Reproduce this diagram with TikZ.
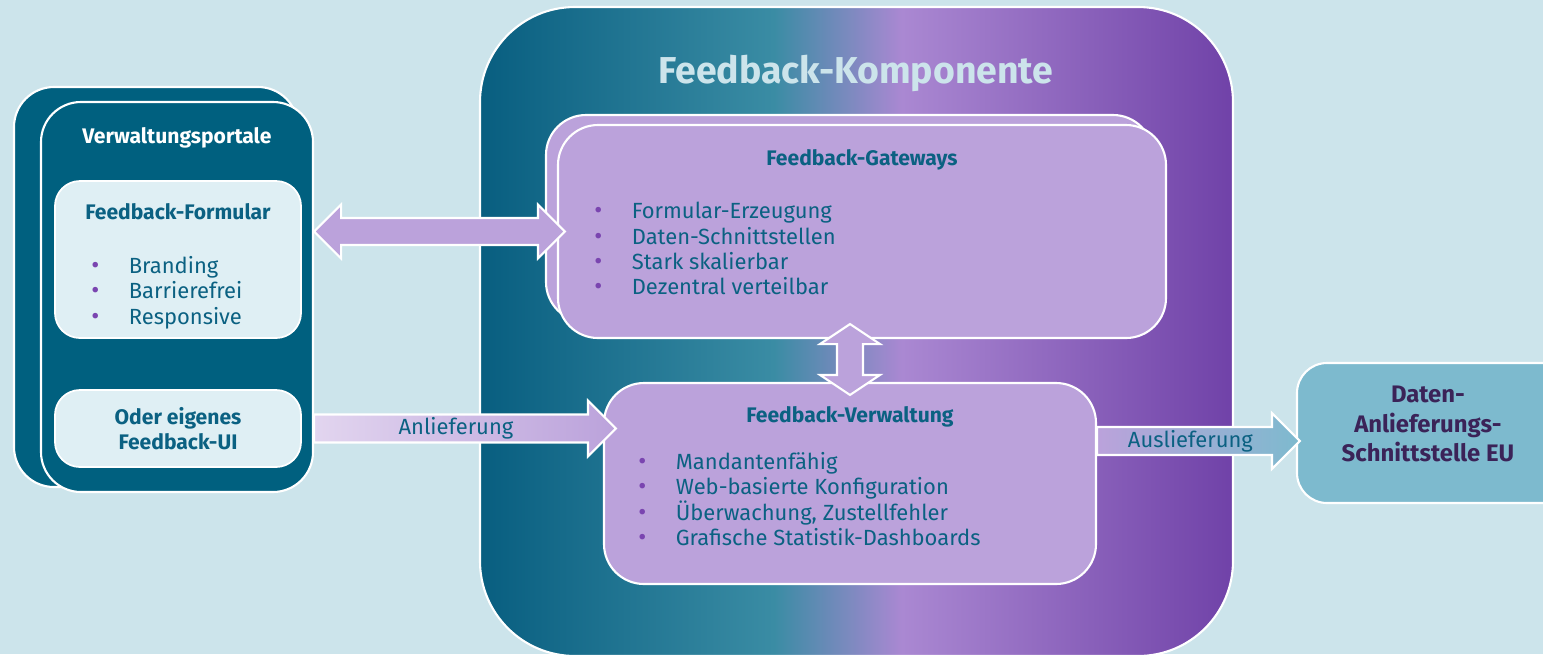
\documentclass[tikz,border=0pt]{standalone}
\usepackage{fontspec}
\setmainfont{Fira Sans}
\usetikzlibrary{calc,fit,positioning}

\definecolor{bgblue}{HTML}{CCE4EB}
\definecolor{portalteal}{HTML}{00607F}
\definecolor{formfill}{HTML}{DFEFF4}
\definecolor{headteal}{HTML}{0B6182}
\definecolor{boxpurple}{HTML}{BBA2DB}
\definecolor{dotpurple}{HTML}{7A45B0}
\definecolor{eublue}{HTML}{7DBACE}
\definecolor{eutext}{HTML}{3B2358}
\definecolor{palepurple}{HTML}{E2D5EF}
\definecolor{gradA}{RGB}{8,94,128}
\definecolor{gradB}{RGB}{58,140,164}
\definecolor{gradC}{RGB}{170,136,210}
\definecolor{gradD}{RGB}{112,66,168}

\pgfdeclarehorizontalshading{compgrad}{100bp}{color(0bp)=(gradA); color(25bp)=(gradA); color(44.5bp)=(gradB); color(53bp)=(gradC); color(75bp)=(gradD); color(100bp)=(gradD)}

\newcommand{\bul}{\makebox[0.75cm][l]{\textcolor{dotpurple}{\fontsize{14}{14}\selectfont\textbullet}}}
\def\dblharrow[#1](#2)(#3){\draw[#1] (#2) -- ++(27,-27) -- ++(0,13.5) -- ($(#3)+(-27,-13.5)$) -- ++(0,-13.5) -- (#3) -- ++(-27,27) -- ++(0,-13.5) -- ($(#2)+(27,13.5)$) -- ++(0,13.5) -- cycle;}
\def\dblvarrow[#1](#2)(#3){\draw[#1] (#2) -- ++(30,20) -- ++(-17,0) -- ($(#3)+(13,-20)$) -- ++(17,0) -- (#3) -- ++(-30,-20) -- ++(17,0) -- ($(#2)+(-13,20)$) -- ++(-17,0) -- cycle;}
\def\sglarrow[#1](#2)(#3){\draw[#1] (#2) -- ++(0,-14) -- ($(#3)+(-28,-14)$) -- ++(0,-14) -- (#3) -- ++(-28,28) -- ++(0,-14) -- ($(#2)+(0,14)$) -- cycle;}

\tikzset{
	portal/.style={draw=white, line width=1.2pt, fill=portalteal, rounded corners=0.8cm, inner sep=0pt},
	lightbox/.style={draw=white, line width=1pt, fill=formfill, rounded corners=0.5cm, inner sep=0pt},
	purplebox/.style={draw=white, line width=1.2pt, fill=boxpurple, rounded corners=0.8cm, inner sep=0pt},
	head/.style={font=\bfseries\fontsize{12}{14.2}\selectfont, text=headteal, align=center},
	bullets/.style={font=\fontsize{12.5}{14.4}\selectfont, text=headteal, align=left, anchor=north west, inner sep=0pt},
	arrowtext/.style={font=\fontsize{12.5}{14.2}\selectfont, text=headteal},
	blockarrow/.style={draw=white, line width=1.2pt, fill=boxpurple},
}

\begin{document}
\begin{tikzpicture}[x=0.02cm, y=-0.02cm]
		%%%%% START %%%%%
		\useasboundingbox (0,0) rectangle (1543,654);
		\clip (0,0) rectangle (1543,654);
		\fill[bgblue] (0,0) rectangle (1543,654);
		
		% Feedback-Komponente
		\node[draw=white, line width=1.2pt, shading=compgrad, rounded corners=1.9cm, inner sep=0pt, fit={(480,7) (1233,656)}] (comp) {};
		\node[font=\bfseries\fontsize{21.3}{24}\selectfont, text=bgblue] (comptitle) at (856,73) {Feedback-Komponente};
		
		% Verwaltungsportale
		\node[portal, fit={(14,87) (298,487)}] (portalback) {};
		\node[portal, fit={(41,102) (313,492)}] (portal) {};
		\node[head, text=white] (portaltitle) at (177,138) {Verwaltungsportale};
		
		\node[lightbox, fit={(55,181) (301,338)}] (form) {};
		\node[head] (formhead) at (178,212) {Feedback-Formular};
		\node[bullets] (formlist) at (91,256) {\bul Branding\\\bul Barrierefrei\\\bul Responsive};
		
		\node[lightbox, fit={(55,390) (301,467)}] (oder) {};
		\node[head] (oderhead) at (oder) {Oder eigenes\\Feedback-UI};
		
		% Gateways
		\node[purplebox, fit={(546,115) (1153,322)}] (gwback) {};
		\node[purplebox, fit={(558,125) (1166,338)}] (gw) {};
		\node[head] (gwhead) at (862,160) {Feedback-Gateways};
		\node[bullets] (gwlist) at (594,202) {\bul Formular-Erzeugung\\\bul Daten-Schnittstellen\\\bul Stark skalierbar\\\bul Dezentral verteilbar};
		
		% Verwaltung
		\node[purplebox, fit={(604,383) (1096,584)}] (verw) {};
		\node[head] (verwhead) at (850,417) {Feedback-Verwaltung};
		\node[bullets] (verwlist) at (638,452) {\bul Mandantenfähig\\\bul Web-basierte Konfiguration\\\bul Überwachung, Zustellfehler\\\bul Grafische Statistik-Dashboards};
		
		% EU
		\node[draw=white, line width=1.2pt, fill=eublue, rounded corners=0.6cm, inner sep=0pt, fit={(1297,363) (1600,503)}] (eu) {};
		\node[font=\bfseries\fontsize{13.6}{16.7}\selectfont, text=eutext, align=center] (eutitle) at ($(eu.west)+(132,-9)$) {Daten-\\Anlieferungs-\\Schnittstelle EU};
		
		% arrows
		\coordinate (lnkL) at (portal.east |- gw.west);
		\coordinate (lnkR) at ($(gw.west)+(8,0)$);
		\dblharrow[blockarrow](lnkL)(lnkR)
		
		\coordinate (updnT) at ($(verw.north |- gw.south)+(0,-15)$);
		\coordinate (updnB) at ($(verw.north)+(0,13)$);
		\dblvarrow[blockarrow](updnT)(updnB)
		
		\coordinate (inA) at (portal.east |- oder.east);
		\coordinate (inB) at ($(verw.west |- oder.east)+(13,0)$);
		\sglarrow[blockarrow, left color=palepurple, right color=boxpurple](inA)(inB)
		\node[arrowtext] (inlabel) at ($(inA)!0.47!(inB)$) {Anlieferung};
		
		\coordinate (outA) at ($(verw.east |- eu.west)+(0,8)$);
		\coordinate (outB) at ($(eu.west)+(4,8)$);
		\sglarrow[blockarrow, left color=boxpurple, right color=eublue](outA)(outB)
		\node[arrowtext] (outlabel) at ($(outA)!0.46!(outB)$) {Auslieferung};
		%%%%% END %%%%%
\end{tikzpicture}
\end{document}
